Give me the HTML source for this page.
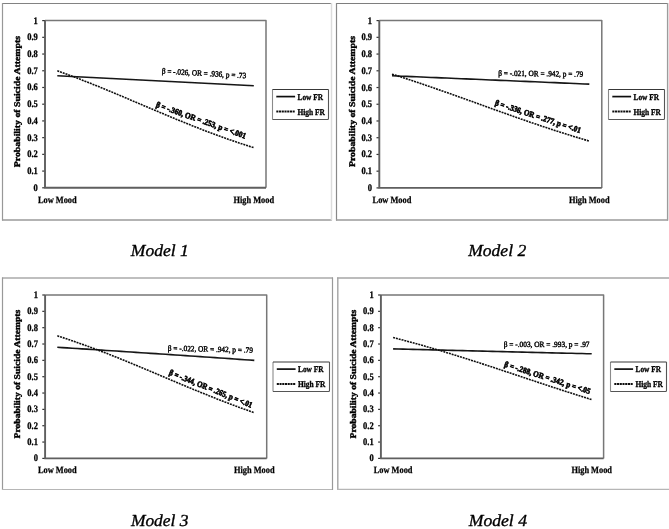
<!DOCTYPE html><html><head><meta charset="utf-8"><style>html,body{margin:0;padding:0;background:#fff;width:669px;height:529px;overflow:hidden}svg{display:block}</style></head><body>
<svg width="669" height="529" viewBox="0 0 669 529">
<rect width="669" height="529" fill="#fff"/>
<defs><filter id="bl" filterUnits="userSpaceOnUse" x="0" y="0" width="669" height="529"><feGaussianBlur stdDeviation="0.38"/></filter></defs><g filter="url(#bl)">
<g font-family='"Liberation Serif", "Times New Roman", serif' fill="#000" stroke-linejoin="round" text-rendering="geometricPrecision">
<path d="M2,3.5H332" fill="none" stroke="#828282" stroke-width="1.2"/>
<path d="M2.5,3V220.5" fill="none" stroke="#989898" stroke-width="1.2"/>
<path d="M2,220H332" fill="none" stroke="#9a9a9a" stroke-width="1.4"/>
<path d="M331.5,3V220.5" fill="none" stroke="#dcdcdc" stroke-width="1.5"/>
<path d="M45,20.6H266V187.8" fill="none" stroke="#777" stroke-width="1.5"/>
<path d="M42.2,187.80H45" stroke="#333" stroke-width="1.2"/>
<text transform="translate(37.80,190.80) scale(0.85,1)" font-size="10" font-weight="bold" text-anchor="end" stroke="#000" stroke-width="0.3">0</text>
<path d="M42.2,171.08H45" stroke="#333" stroke-width="1.2"/>
<text transform="translate(37.80,174.08) scale(0.85,1)" font-size="10" font-weight="bold" text-anchor="end" stroke="#000" stroke-width="0.3">0.1</text>
<path d="M42.2,154.36H45" stroke="#333" stroke-width="1.2"/>
<text transform="translate(37.80,157.36) scale(0.85,1)" font-size="10" font-weight="bold" text-anchor="end" stroke="#000" stroke-width="0.3">0.2</text>
<path d="M42.2,137.64H45" stroke="#333" stroke-width="1.2"/>
<text transform="translate(37.80,140.64) scale(0.85,1)" font-size="10" font-weight="bold" text-anchor="end" stroke="#000" stroke-width="0.3">0.3</text>
<path d="M42.2,120.92H45" stroke="#333" stroke-width="1.2"/>
<text transform="translate(37.80,123.92) scale(0.85,1)" font-size="10" font-weight="bold" text-anchor="end" stroke="#000" stroke-width="0.3">0.4</text>
<path d="M42.2,104.20H45" stroke="#333" stroke-width="1.2"/>
<text transform="translate(37.80,107.20) scale(0.85,1)" font-size="10" font-weight="bold" text-anchor="end" stroke="#000" stroke-width="0.3">0.5</text>
<path d="M42.2,87.48H45" stroke="#333" stroke-width="1.2"/>
<text transform="translate(37.80,90.48) scale(0.85,1)" font-size="10" font-weight="bold" text-anchor="end" stroke="#000" stroke-width="0.3">0.6</text>
<path d="M42.2,70.76H45" stroke="#333" stroke-width="1.2"/>
<text transform="translate(37.80,73.76) scale(0.85,1)" font-size="10" font-weight="bold" text-anchor="end" stroke="#000" stroke-width="0.3">0.7</text>
<path d="M42.2,54.04H45" stroke="#333" stroke-width="1.2"/>
<text transform="translate(37.80,57.04) scale(0.85,1)" font-size="10" font-weight="bold" text-anchor="end" stroke="#000" stroke-width="0.3">0.8</text>
<path d="M42.2,37.32H45" stroke="#333" stroke-width="1.2"/>
<text transform="translate(37.80,40.32) scale(0.85,1)" font-size="10" font-weight="bold" text-anchor="end" stroke="#000" stroke-width="0.3">0.9</text>
<path d="M42.2,20.60H45" stroke="#333" stroke-width="1.2"/>
<text transform="translate(37.80,23.60) scale(0.85,1)" font-size="10" font-weight="bold" text-anchor="end" stroke="#000" stroke-width="0.3">1</text>
<path d="M45,20.6V187.8H266" fill="none" stroke="#5e5e5e" stroke-width="1.9"/>
<text x="57.3" y="202.60" font-size="9.6" font-weight="bold" text-anchor="middle" stroke="#000" stroke-width="0.25" textLength="38.8" lengthAdjust="spacingAndGlyphs">Low Mood</text>
<text x="253.8" y="202.60" font-size="9.6" font-weight="bold" text-anchor="middle" stroke="#000" stroke-width="0.25" textLength="40.6" lengthAdjust="spacingAndGlyphs">High Mood</text>
<text transform="translate(20.3,101.60) rotate(-90)" font-size="8.7" font-weight="bold" text-anchor="middle" stroke="#000" stroke-width="0.4" textLength="131.2" lengthAdjust="spacingAndGlyphs">Probability of Suicide Attempts</text>
<path d="M57.30,75.78 L62.21,76.02 L67.12,76.26 L72.04,76.50 L76.95,76.74 L81.86,76.99 L86.77,77.23 L91.69,77.48 L96.60,77.72 L101.51,77.97 L106.42,78.21 L111.34,78.46 L116.25,78.71 L121.16,78.95 L126.07,79.20 L130.99,79.45 L135.90,79.70 L140.81,79.95 L145.72,80.20 L150.64,80.45 L155.55,80.70 L160.46,80.95 L165.38,81.20 L170.29,81.46 L175.20,81.71 L180.11,81.96 L185.03,82.21 L189.94,82.47 L194.85,82.72 L199.76,82.98 L204.68,83.23 L209.59,83.49 L214.50,83.74 L219.41,84.00 L224.32,84.26 L229.24,84.52 L234.15,84.77 L239.06,85.03 L243.97,85.29 L248.89,85.55 L253.80,85.81" fill="none" stroke="#151515" stroke-width="1.6"/>
<path d="M57.30,70.76 L62.21,72.53 L67.12,74.34 L72.04,76.18 L76.95,78.05 L81.86,79.95 L86.77,81.88 L91.69,83.83 L96.60,85.81 L101.51,87.81 L106.42,89.83 L111.34,91.86 L116.25,93.92 L121.16,95.98 L126.07,98.05 L130.99,100.14 L135.90,102.22 L140.81,104.31 L145.72,106.40 L150.64,108.49 L155.55,110.57 L160.46,112.64 L165.38,114.71 L170.29,116.76 L175.20,118.79 L180.11,120.81 L185.03,122.81 L189.94,124.78 L194.85,126.73 L199.76,128.66 L204.68,130.55 L209.59,132.42 L214.50,134.26 L219.41,136.06 L224.32,137.83 L229.24,139.56 L234.15,141.26 L239.06,142.92 L243.97,144.54 L248.89,146.13 L253.80,147.67" fill="none" stroke="#111" stroke-width="1.6" stroke-dasharray="2 0.9"/>
<text transform="translate(161.7,73.6) rotate(3.2) scale(0.9048,1)" font-size="8.0" font-weight="normal" stroke="#000" stroke-width="0.42">β = -.026, OR = .936, p = .73</text>
<text transform="translate(155.5,106.8) rotate(19.7) scale(0.8962,1)" font-size="8.2" font-weight="bold" stroke="#000" stroke-width="0.62">β = -.360, OR = .253, p = &lt;.001</text>
<path d="M272.5,119.5V89.5" fill="none" stroke="#8a8a8a" stroke-width="1.1"/>
<path d="M272.5,89.5H328.5" fill="none" stroke="#383838" stroke-width="1.1"/>
<path d="M328.5,89.5V118.5Q328.5,119.5 327.5,119.5H272.5" fill="none" stroke="#555" stroke-width="1.1"/>
<path d="M276.3,96.6H295.1" stroke="#111" stroke-width="1.7"/>
<path d="M276.3,111.5H295.1" stroke="#111" stroke-width="1.8" stroke-dasharray="2.1 0.62"/>
<text x="297.5" y="99.9" font-size="8.8" font-weight="bold" stroke="#000" stroke-width="0.32" textLength="25.5" lengthAdjust="spacingAndGlyphs">Low FR</text>
<text x="297.5" y="114.6" font-size="8.8" font-weight="bold" stroke="#000" stroke-width="0.32" textLength="27.5" lengthAdjust="spacingAndGlyphs">High FR</text>
<text x="130.8" y="256.3" font-size="16.8" font-style="italic" stroke="#000" stroke-width="0.35" textLength="58" lengthAdjust="spacingAndGlyphs">Model 1</text>
<path d="M336,3.5H668" fill="none" stroke="#7e7e7e" stroke-width="1.2"/>
<path d="M336.5,3V220.5" fill="none" stroke="#888" stroke-width="1.2"/>
<path d="M336,220H668" fill="none" stroke="#9a9a9a" stroke-width="1.4"/>
<path d="M667.5,3V220.5" fill="none" stroke="#9c9c9c" stroke-width="1.2"/>
<path d="M668.6,3V220.5" fill="none" stroke="#dedede" stroke-width="1.0"/>
<path d="M379.3,20.6H601.8V187.9" fill="none" stroke="#777" stroke-width="1.5"/>
<path d="M376.5,187.90H379.3" stroke="#333" stroke-width="1.2"/>
<text transform="translate(372.10,190.90) scale(0.85,1)" font-size="10" font-weight="bold" text-anchor="end" stroke="#000" stroke-width="0.3">0</text>
<path d="M376.5,171.17H379.3" stroke="#333" stroke-width="1.2"/>
<text transform="translate(372.10,174.17) scale(0.85,1)" font-size="10" font-weight="bold" text-anchor="end" stroke="#000" stroke-width="0.3">0.1</text>
<path d="M376.5,154.44H379.3" stroke="#333" stroke-width="1.2"/>
<text transform="translate(372.10,157.44) scale(0.85,1)" font-size="10" font-weight="bold" text-anchor="end" stroke="#000" stroke-width="0.3">0.2</text>
<path d="M376.5,137.71H379.3" stroke="#333" stroke-width="1.2"/>
<text transform="translate(372.10,140.71) scale(0.85,1)" font-size="10" font-weight="bold" text-anchor="end" stroke="#000" stroke-width="0.3">0.3</text>
<path d="M376.5,120.98H379.3" stroke="#333" stroke-width="1.2"/>
<text transform="translate(372.10,123.98) scale(0.85,1)" font-size="10" font-weight="bold" text-anchor="end" stroke="#000" stroke-width="0.3">0.4</text>
<path d="M376.5,104.25H379.3" stroke="#333" stroke-width="1.2"/>
<text transform="translate(372.10,107.25) scale(0.85,1)" font-size="10" font-weight="bold" text-anchor="end" stroke="#000" stroke-width="0.3">0.5</text>
<path d="M376.5,87.52H379.3" stroke="#333" stroke-width="1.2"/>
<text transform="translate(372.10,90.52) scale(0.85,1)" font-size="10" font-weight="bold" text-anchor="end" stroke="#000" stroke-width="0.3">0.6</text>
<path d="M376.5,70.79H379.3" stroke="#333" stroke-width="1.2"/>
<text transform="translate(372.10,73.79) scale(0.85,1)" font-size="10" font-weight="bold" text-anchor="end" stroke="#000" stroke-width="0.3">0.7</text>
<path d="M376.5,54.06H379.3" stroke="#333" stroke-width="1.2"/>
<text transform="translate(372.10,57.06) scale(0.85,1)" font-size="10" font-weight="bold" text-anchor="end" stroke="#000" stroke-width="0.3">0.8</text>
<path d="M376.5,37.33H379.3" stroke="#333" stroke-width="1.2"/>
<text transform="translate(372.10,40.33) scale(0.85,1)" font-size="10" font-weight="bold" text-anchor="end" stroke="#000" stroke-width="0.3">0.9</text>
<path d="M376.5,20.60H379.3" stroke="#333" stroke-width="1.2"/>
<text transform="translate(372.10,23.60) scale(0.85,1)" font-size="10" font-weight="bold" text-anchor="end" stroke="#000" stroke-width="0.3">1</text>
<path d="M379.3,20.6V187.9H601.8" fill="none" stroke="#5e5e5e" stroke-width="1.9"/>
<text x="392" y="202.70" font-size="9.6" font-weight="bold" text-anchor="middle" stroke="#000" stroke-width="0.25" textLength="38.8" lengthAdjust="spacingAndGlyphs">Low Mood</text>
<text x="589.3" y="202.70" font-size="9.6" font-weight="bold" text-anchor="middle" stroke="#000" stroke-width="0.25" textLength="40.6" lengthAdjust="spacingAndGlyphs">High Mood</text>
<text transform="translate(354.5,101.55) rotate(-90)" font-size="8.7" font-weight="bold" text-anchor="middle" stroke="#000" stroke-width="0.4" textLength="131.1" lengthAdjust="spacingAndGlyphs">Probability of Suicide Attempts</text>
<path d="M392.00,75.81 L396.93,76.01 L401.87,76.21 L406.80,76.42 L411.73,76.62 L416.66,76.82 L421.59,77.03 L426.53,77.23 L431.46,77.44 L436.39,77.64 L441.32,77.85 L446.26,78.06 L451.19,78.26 L456.12,78.47 L461.05,78.68 L465.99,78.88 L470.92,79.09 L475.85,79.30 L480.78,79.51 L485.72,79.72 L490.65,79.93 L495.58,80.13 L500.51,80.34 L505.45,80.55 L510.38,80.76 L515.31,80.98 L520.25,81.19 L525.18,81.40 L530.11,81.61 L535.04,81.82 L539.97,82.03 L544.91,82.25 L549.84,82.46 L554.77,82.67 L559.70,82.89 L564.64,83.10 L569.57,83.31 L574.50,83.53 L579.43,83.74 L584.37,83.96 L589.30,84.17" fill="none" stroke="#151515" stroke-width="1.6"/>
<path d="M392.00,74.14 L396.93,75.69 L401.87,77.27 L406.80,78.87 L411.73,80.50 L416.66,82.14 L421.59,83.80 L426.53,85.48 L431.46,87.17 L436.39,88.88 L441.32,90.60 L446.26,92.34 L451.19,94.08 L456.12,95.84 L461.05,97.60 L465.99,99.36 L470.92,101.14 L475.85,102.91 L480.78,104.69 L485.72,106.46 L490.65,108.23 L495.58,110.00 L500.51,111.77 L505.45,113.53 L510.38,115.28 L515.31,117.02 L520.25,118.74 L525.18,120.46 L530.11,122.16 L535.04,123.85 L539.97,125.52 L544.91,127.17 L549.84,128.80 L554.77,130.41 L559.70,132.01 L564.64,133.58 L569.57,135.12 L574.50,136.64 L579.43,138.14 L584.37,139.61 L589.30,141.06" fill="none" stroke="#111" stroke-width="1.6" stroke-dasharray="2 0.9"/>
<text transform="translate(498.2,75.7) rotate(0.7) scale(0.9102,1)" font-size="8.0" font-weight="normal" stroke="#000" stroke-width="0.42">β = -.021, OR = .942, p = .79</text>
<text transform="translate(494.5,105.0) rotate(18.2) scale(0.8832,1)" font-size="8.2" font-weight="bold" stroke="#000" stroke-width="0.62">β = -.336, OR = .277, p = &lt;.01</text>
<path d="M608.5,119.5V89.5" fill="none" stroke="#8a8a8a" stroke-width="1.1"/>
<path d="M608.5,89.5H664.5" fill="none" stroke="#383838" stroke-width="1.1"/>
<path d="M664.5,89.5V118.5Q664.5,119.5 663.5,119.5H608.5" fill="none" stroke="#555" stroke-width="1.1"/>
<path d="M612.3,96.6H631.1" stroke="#111" stroke-width="1.7"/>
<path d="M612.3,111.5H631.1" stroke="#111" stroke-width="1.8" stroke-dasharray="2.1 0.62"/>
<text x="633.5" y="99.9" font-size="8.8" font-weight="bold" stroke="#000" stroke-width="0.32" textLength="25.5" lengthAdjust="spacingAndGlyphs">Low FR</text>
<text x="633.5" y="114.6" font-size="8.8" font-weight="bold" stroke="#000" stroke-width="0.32" textLength="27.5" lengthAdjust="spacingAndGlyphs">High FR</text>
<text x="468.2" y="256.2" font-size="16.8" font-style="italic" stroke="#000" stroke-width="0.35" textLength="58" lengthAdjust="spacingAndGlyphs">Model 2</text>
<path d="M2,278H333" fill="none" stroke="#aaa" stroke-width="1.6"/>
<path d="M2.5,277.5V490" fill="none" stroke="#999" stroke-width="1.2"/>
<path d="M2,489.5H333" fill="none" stroke="#b6b6b6" stroke-width="1.2"/>
<path d="M332.5,277.5V490" fill="none" stroke="#999" stroke-width="1.2"/>
<path d="M45.1,295H266.7V458.4" fill="none" stroke="#777" stroke-width="1.5"/>
<path d="M42.300000000000004,458.40H45.1" stroke="#333" stroke-width="1.2"/>
<text transform="translate(37.90,461.40) scale(0.85,1)" font-size="10" font-weight="bold" text-anchor="end" stroke="#000" stroke-width="0.3">0</text>
<path d="M42.300000000000004,442.06H45.1" stroke="#333" stroke-width="1.2"/>
<text transform="translate(37.90,445.06) scale(0.85,1)" font-size="10" font-weight="bold" text-anchor="end" stroke="#000" stroke-width="0.3">0.1</text>
<path d="M42.300000000000004,425.72H45.1" stroke="#333" stroke-width="1.2"/>
<text transform="translate(37.90,428.72) scale(0.85,1)" font-size="10" font-weight="bold" text-anchor="end" stroke="#000" stroke-width="0.3">0.2</text>
<path d="M42.300000000000004,409.38H45.1" stroke="#333" stroke-width="1.2"/>
<text transform="translate(37.90,412.38) scale(0.85,1)" font-size="10" font-weight="bold" text-anchor="end" stroke="#000" stroke-width="0.3">0.3</text>
<path d="M42.300000000000004,393.04H45.1" stroke="#333" stroke-width="1.2"/>
<text transform="translate(37.90,396.04) scale(0.85,1)" font-size="10" font-weight="bold" text-anchor="end" stroke="#000" stroke-width="0.3">0.4</text>
<path d="M42.300000000000004,376.70H45.1" stroke="#333" stroke-width="1.2"/>
<text transform="translate(37.90,379.70) scale(0.85,1)" font-size="10" font-weight="bold" text-anchor="end" stroke="#000" stroke-width="0.3">0.5</text>
<path d="M42.300000000000004,360.36H45.1" stroke="#333" stroke-width="1.2"/>
<text transform="translate(37.90,363.36) scale(0.85,1)" font-size="10" font-weight="bold" text-anchor="end" stroke="#000" stroke-width="0.3">0.6</text>
<path d="M42.300000000000004,344.02H45.1" stroke="#333" stroke-width="1.2"/>
<text transform="translate(37.90,347.02) scale(0.85,1)" font-size="10" font-weight="bold" text-anchor="end" stroke="#000" stroke-width="0.3">0.7</text>
<path d="M42.300000000000004,327.68H45.1" stroke="#333" stroke-width="1.2"/>
<text transform="translate(37.90,330.68) scale(0.85,1)" font-size="10" font-weight="bold" text-anchor="end" stroke="#000" stroke-width="0.3">0.8</text>
<path d="M42.300000000000004,311.34H45.1" stroke="#333" stroke-width="1.2"/>
<text transform="translate(37.90,314.34) scale(0.85,1)" font-size="10" font-weight="bold" text-anchor="end" stroke="#000" stroke-width="0.3">0.9</text>
<path d="M42.300000000000004,295.00H45.1" stroke="#333" stroke-width="1.2"/>
<text transform="translate(37.90,298.00) scale(0.85,1)" font-size="10" font-weight="bold" text-anchor="end" stroke="#000" stroke-width="0.3">1</text>
<path d="M45.1,295V458.4H266.7" fill="none" stroke="#5e5e5e" stroke-width="1.9"/>
<text x="57.3" y="473.20" font-size="9.6" font-weight="bold" text-anchor="middle" stroke="#000" stroke-width="0.25" textLength="38.8" lengthAdjust="spacingAndGlyphs">Low Mood</text>
<text x="254.3" y="473.20" font-size="9.6" font-weight="bold" text-anchor="middle" stroke="#000" stroke-width="0.25" textLength="40.6" lengthAdjust="spacingAndGlyphs">High Mood</text>
<text transform="translate(20.1,374.10) rotate(-90)" font-size="8.7" font-weight="bold" text-anchor="middle" stroke="#000" stroke-width="0.4" textLength="128.8" lengthAdjust="spacingAndGlyphs">Probability of Suicide Attempts</text>
<path d="M57.30,347.29 L62.22,347.60 L67.15,347.91 L72.07,348.22 L77.00,348.53 L81.92,348.85 L86.85,349.16 L91.77,349.48 L96.70,349.80 L101.62,350.11 L106.55,350.43 L111.47,350.75 L116.40,351.07 L121.33,351.39 L126.25,351.71 L131.18,352.04 L136.10,352.36 L141.02,352.69 L145.95,353.01 L150.88,353.34 L155.80,353.66 L160.73,353.99 L165.65,354.32 L170.57,354.65 L175.50,354.98 L180.43,355.31 L185.35,355.64 L190.28,355.98 L195.20,356.31 L200.12,356.64 L205.05,356.98 L209.98,357.31 L214.90,357.65 L219.82,357.98 L224.75,358.32 L229.68,358.66 L234.60,359.00 L239.53,359.34 L244.45,359.68 L249.38,360.02 L254.30,360.36" fill="none" stroke="#151515" stroke-width="1.6"/>
<path d="M57.30,335.85 L62.22,337.43 L67.15,339.06 L72.07,340.72 L77.00,342.42 L81.92,344.16 L86.85,345.93 L91.77,347.74 L96.70,349.58 L101.62,351.45 L106.55,353.35 L111.47,355.28 L116.40,357.24 L121.33,359.22 L126.25,361.22 L131.18,363.24 L136.10,365.28 L141.02,367.33 L145.95,369.40 L150.88,371.47 L155.80,373.55 L160.73,375.64 L165.65,377.72 L170.57,379.81 L175.50,381.89 L180.43,383.96 L185.35,386.03 L190.28,388.08 L195.20,390.12 L200.12,392.14 L205.05,394.14 L209.98,396.12 L214.90,398.08 L219.82,400.01 L224.75,401.91 L229.68,403.79 L234.60,405.63 L239.53,407.43 L244.45,409.21 L249.38,410.95 L254.30,412.65" fill="none" stroke="#111" stroke-width="1.6" stroke-dasharray="2 0.9"/>
<text transform="translate(167.8,350.7) rotate(1.4) scale(0.9102,1)" font-size="8.0" font-weight="normal" stroke="#000" stroke-width="0.42">β = -.022, OR = .942, p = .79</text>
<text transform="translate(168.5,374.6) rotate(21.9) scale(0.8734,1)" font-size="8.2" font-weight="bold" stroke="#000" stroke-width="0.62">β = -.344, OR = .265, p = &lt;.01</text>
<path d="M273,391.5V362" fill="none" stroke="#8a8a8a" stroke-width="1.1"/>
<path d="M273,362H329.5" fill="none" stroke="#383838" stroke-width="1.1"/>
<path d="M329.5,362V390.5Q329.5,391.5 328.5,391.5H273" fill="none" stroke="#555" stroke-width="1.1"/>
<path d="M276.8,369.1H295.6" stroke="#111" stroke-width="1.7"/>
<path d="M276.8,384H295.6" stroke="#111" stroke-width="1.8" stroke-dasharray="2.1 0.62"/>
<text x="298" y="372.4" font-size="8.8" font-weight="bold" stroke="#000" stroke-width="0.32" textLength="25.5" lengthAdjust="spacingAndGlyphs">Low FR</text>
<text x="298" y="387.1" font-size="8.8" font-weight="bold" stroke="#000" stroke-width="0.32" textLength="27.5" lengthAdjust="spacingAndGlyphs">High FR</text>
<text x="130.9" y="525.6" font-size="16.8" font-style="italic" stroke="#000" stroke-width="0.35" textLength="57.6" lengthAdjust="spacingAndGlyphs">Model 3</text>
<path d="M337,278H669" fill="none" stroke="#a6a6a6" stroke-width="1.6"/>
<path d="M337.8,277.5V490" fill="none" stroke="#a4a4a4" stroke-width="1.4"/>
<path d="M337,489.4H669" fill="none" stroke="#b6b6b6" stroke-width="1.2"/>
<path d="M380.9,295H603.6V458.4" fill="none" stroke="#777" stroke-width="1.5"/>
<path d="M378.09999999999997,458.40H380.9" stroke="#333" stroke-width="1.2"/>
<text transform="translate(373.70,461.40) scale(0.85,1)" font-size="10" font-weight="bold" text-anchor="end" stroke="#000" stroke-width="0.3">0</text>
<path d="M378.09999999999997,442.06H380.9" stroke="#333" stroke-width="1.2"/>
<text transform="translate(373.70,445.06) scale(0.85,1)" font-size="10" font-weight="bold" text-anchor="end" stroke="#000" stroke-width="0.3">0.1</text>
<path d="M378.09999999999997,425.72H380.9" stroke="#333" stroke-width="1.2"/>
<text transform="translate(373.70,428.72) scale(0.85,1)" font-size="10" font-weight="bold" text-anchor="end" stroke="#000" stroke-width="0.3">0.2</text>
<path d="M378.09999999999997,409.38H380.9" stroke="#333" stroke-width="1.2"/>
<text transform="translate(373.70,412.38) scale(0.85,1)" font-size="10" font-weight="bold" text-anchor="end" stroke="#000" stroke-width="0.3">0.3</text>
<path d="M378.09999999999997,393.04H380.9" stroke="#333" stroke-width="1.2"/>
<text transform="translate(373.70,396.04) scale(0.85,1)" font-size="10" font-weight="bold" text-anchor="end" stroke="#000" stroke-width="0.3">0.4</text>
<path d="M378.09999999999997,376.70H380.9" stroke="#333" stroke-width="1.2"/>
<text transform="translate(373.70,379.70) scale(0.85,1)" font-size="10" font-weight="bold" text-anchor="end" stroke="#000" stroke-width="0.3">0.5</text>
<path d="M378.09999999999997,360.36H380.9" stroke="#333" stroke-width="1.2"/>
<text transform="translate(373.70,363.36) scale(0.85,1)" font-size="10" font-weight="bold" text-anchor="end" stroke="#000" stroke-width="0.3">0.6</text>
<path d="M378.09999999999997,344.02H380.9" stroke="#333" stroke-width="1.2"/>
<text transform="translate(373.70,347.02) scale(0.85,1)" font-size="10" font-weight="bold" text-anchor="end" stroke="#000" stroke-width="0.3">0.7</text>
<path d="M378.09999999999997,327.68H380.9" stroke="#333" stroke-width="1.2"/>
<text transform="translate(373.70,330.68) scale(0.85,1)" font-size="10" font-weight="bold" text-anchor="end" stroke="#000" stroke-width="0.3">0.8</text>
<path d="M378.09999999999997,311.34H380.9" stroke="#333" stroke-width="1.2"/>
<text transform="translate(373.70,314.34) scale(0.85,1)" font-size="10" font-weight="bold" text-anchor="end" stroke="#000" stroke-width="0.3">0.9</text>
<path d="M378.09999999999997,295.00H380.9" stroke="#333" stroke-width="1.2"/>
<text transform="translate(373.70,298.00) scale(0.85,1)" font-size="10" font-weight="bold" text-anchor="end" stroke="#000" stroke-width="0.3">1</text>
<path d="M380.9,295V458.4H603.6" fill="none" stroke="#5e5e5e" stroke-width="1.9"/>
<text x="393.1" y="473.20" font-size="9.6" font-weight="bold" text-anchor="middle" stroke="#000" stroke-width="0.25" textLength="38.8" lengthAdjust="spacingAndGlyphs">Low Mood</text>
<text x="591.7" y="473.20" font-size="9.6" font-weight="bold" text-anchor="middle" stroke="#000" stroke-width="0.25" textLength="40.6" lengthAdjust="spacingAndGlyphs">High Mood</text>
<text transform="translate(355.8,374.10) rotate(-90)" font-size="8.7" font-weight="bold" text-anchor="middle" stroke="#000" stroke-width="0.4" textLength="128.8" lengthAdjust="spacingAndGlyphs">Probability of Suicide Attempts</text>
<path d="M393.10,348.92 L398.06,349.04 L403.03,349.16 L408.00,349.28 L412.96,349.40 L417.93,349.52 L422.89,349.64 L427.86,349.77 L432.82,349.89 L437.79,350.01 L442.75,350.13 L447.72,350.25 L452.68,350.37 L457.65,350.49 L462.61,350.61 L467.58,350.74 L472.54,350.86 L477.50,350.98 L482.47,351.10 L487.44,351.23 L492.40,351.35 L497.37,351.47 L502.33,351.59 L507.30,351.72 L512.26,351.84 L517.23,351.96 L522.19,352.09 L527.16,352.21 L532.12,352.33 L537.09,352.46 L542.05,352.58 L547.02,352.70 L551.98,352.83 L556.95,352.95 L561.91,353.08 L566.88,353.20 L571.84,353.32 L576.81,353.45 L581.77,353.57 L586.74,353.70 L591.70,353.82" fill="none" stroke="#151515" stroke-width="1.6"/>
<path d="M393.10,337.48 L398.06,338.77 L403.03,340.08 L408.00,341.42 L412.96,342.78 L417.93,344.16 L422.89,345.56 L427.86,346.99 L432.82,348.43 L437.79,349.90 L442.75,351.39 L447.72,352.90 L452.68,354.42 L457.65,355.96 L462.61,357.52 L467.58,359.09 L472.54,360.68 L477.50,362.27 L482.47,363.88 L487.44,365.50 L492.40,367.13 L497.37,368.77 L502.33,370.41 L507.30,372.06 L512.26,373.71 L517.23,375.37 L522.19,377.02 L527.16,378.68 L532.12,380.33 L537.09,381.98 L542.05,383.63 L547.02,385.27 L551.98,386.90 L556.95,388.53 L561.91,390.15 L566.88,391.75 L571.84,393.34 L576.81,394.92 L581.77,396.49 L586.74,398.04 L591.70,399.58" fill="none" stroke="#111" stroke-width="1.6" stroke-dasharray="2 0.9"/>
<text transform="translate(503.7,347.3) rotate(0) scale(0.9187,1)" font-size="8.0" font-weight="normal" stroke="#000" stroke-width="0.42">β = -.003, OR = .993, p = .97</text>
<text transform="translate(503.8,366.5) rotate(17.8) scale(0.8832,1)" font-size="8.2" font-weight="bold" stroke="#000" stroke-width="0.62">β = -.288, OR = .342, p = &lt;.05</text>
<path d="M610.5,391.5V362" fill="none" stroke="#8a8a8a" stroke-width="1.1"/>
<path d="M610.5,362H666.5" fill="none" stroke="#383838" stroke-width="1.1"/>
<path d="M666.5,362V390.5Q666.5,391.5 665.5,391.5H610.5" fill="none" stroke="#555" stroke-width="1.1"/>
<path d="M614.3,369.1H633.1" stroke="#111" stroke-width="1.7"/>
<path d="M614.3,384H633.1" stroke="#111" stroke-width="1.8" stroke-dasharray="2.1 0.62"/>
<text x="635.5" y="372.4" font-size="8.8" font-weight="bold" stroke="#000" stroke-width="0.32" textLength="25.5" lengthAdjust="spacingAndGlyphs">Low FR</text>
<text x="635.5" y="387.1" font-size="8.8" font-weight="bold" stroke="#000" stroke-width="0.32" textLength="27.5" lengthAdjust="spacingAndGlyphs">High FR</text>
<text x="468.7" y="525.6" font-size="16.8" font-style="italic" stroke="#000" stroke-width="0.35" textLength="58.3" lengthAdjust="spacingAndGlyphs">Model 4</text>
</g></g></svg></body></html>
